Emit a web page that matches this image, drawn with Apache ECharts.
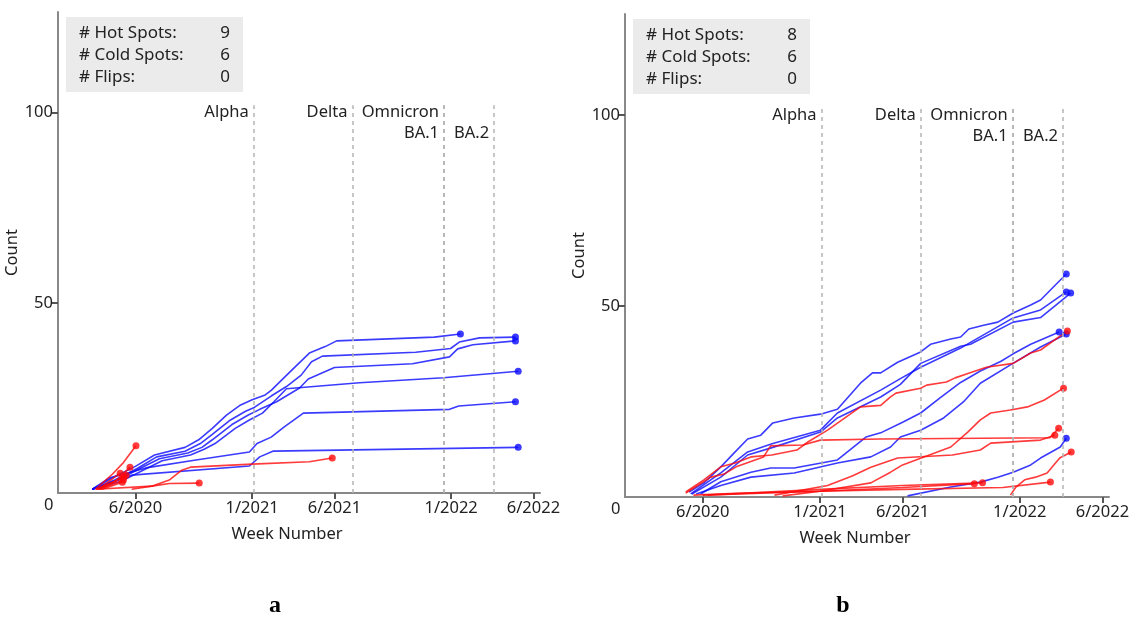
<!DOCTYPE html>
<html>
<head>
<meta charset="utf-8">
<script src="https://cdn.jsdelivr.net/npm/echarts@6/dist/echarts.min.js"></script>
<style>
html, body { margin: 0; padding: 0; background: #fff; }
#main { width: 1135px; height: 619px; }
</style>
</head>
<body>
<div id="main"></div>
<script>
// counts shown in the grey box, panel a then panel b
var hotSpots = [9, 8];
var coldSpots = [6, 6];
var flips = [0, 0];
var panelNames = ['a', 'b'];

var variantNames = ['Alpha', 'Delta', 'Omnicron', 'BA.1', 'BA.2'];
var variantDates = ['2021-01-04', '2021-07-04', '2021-12-19', '2021-12-19', '2022-03-21'];
var tickDates = ['2020-06-01', '2021-01-01', '2021-06-01', '2022-01-01', '2022-06-01'];
var yTicks = [50, 100];

// panel a, cold spots (blue)
var aCold = [
	[['2020-03-14',1],['2020-04-20',4],['2020-06-01',7],['2020-07-06',10],['2020-08-31',12],['2020-09-25',14],['2020-10-20',17],['2020-11-15',20.5],['2020-12-09',23],['2021-01-01',24.5],['2021-01-25',25.8],['2021-02-05',27],['2021-03-11',31.8],['2021-04-16',36.8],['2021-05-15',38.5],['2021-06-05',40],['2021-12-01',41],['2022-01-18',41.8]],
	[['2020-03-14',1],['2020-04-25',3.5],['2020-06-05',6.5],['2020-07-10',9.5],['2020-08-31',11],['2020-09-28',13],['2020-10-20',15.4],['2020-11-20',19],['2020-12-20',21.5],['2021-01-05',22.5],['2021-02-05',25.5],['2021-03-05',28],['2021-04-01',31],['2021-04-20',34.5],['2021-05-10',36],['2021-10-28',37],['2021-12-31',38],['2022-01-16',39.7],['2022-02-22',40.8],['2022-04-29',41]],
	[['2020-03-14',1],['2020-05-01',3.5],['2020-06-10',6.5],['2020-07-15',9],['2020-09-05',10.5],['2020-10-01',12],['2020-10-20',14],['2020-11-25',18],['2020-12-25',20.5],['2021-01-15',22],['2021-02-15',24],['2021-03-29',27.6],['2021-04-14',30],['2021-06-01',33],['2021-10-22',34],['2021-12-29',35.8],['2022-01-13',37.9],['2022-02-10',39],['2022-04-29',40]],
	[['2020-03-14',1],['2020-05-05',3],['2020-06-15',6],['2020-07-20',8.5],['2020-09-10',10],['2020-10-05',11.5],['2020-10-25',13],['2020-12-01',17],['2020-12-27',19.2],['2021-01-20',21],['2021-02-10',24],['2021-03-05',27.4],['2021-07-17',29],['2021-12-18',30.3],['2022-05-04',32]],
	[['2020-03-14',1],['2020-04-15',4],['2020-05-20',5.3],['2020-06-20',6.6],['2020-09-20',8.7],['2020-12-27',10.8],['2021-01-10',13],['2021-02-05',14.7],['2021-03-01',17.4],['2021-04-05',21],['2021-12-29',22],['2022-01-15',22.9],['2022-04-29',24]],
	[['2020-03-14',1],['2020-05-25',4.7],['2020-12-27',7.1],['2021-01-15',9.5],['2021-02-08',11],['2022-05-04',12]]
];
// panel a, hot spots (red)
var aHot = [
	[['2020-03-20',1],['2020-04-20',5],['2020-05-10',8],['2020-06-02',12.4]],
	[['2020-03-25',1],['2020-04-25',3],['2020-05-22',6.8]],
	[['2020-03-25',1],['2020-05-04',5.2]],
	[['2020-03-28',1],['2020-05-15',4.7]],
	[['2020-03-28',1],['2020-05-10',3.4]],
	[['2020-05-25',1],['2020-07-10',2],['2020-08-02',2.5],['2020-09-26',2.6]],
	[['2020-03-20',1],['2020-07-01',1.8],['2020-08-02',3.4],['2020-08-25',6],['2020-09-10',6.8],['2021-01-01',7.6],['2021-04-16',8.2],['2021-05-28',9.2]],
	[['2020-03-22',1],['2020-05-11',4.2]],
	[['2020-04-01',1],['2020-05-08',2.8]]
];
// panel b, cold spots (blue)
var bCold = [
	[['2020-05-07',1.3],['2020-06-03',3.7],['2020-07-04',7.9],['2020-07-28',11.5],['2020-08-22',15.2],['2020-09-15',16.2],['2020-10-07',19.4],['2020-11-15',20.7],['2021-01-02',21.7],['2021-02-02',23],['2021-03-16',29.8],['2021-04-07',32.5],['2021-04-22',32.5],['2021-05-23',35.3],['2021-07-04',38],['2021-07-22',40],['2021-08-28',41.4],['2021-09-15',41.9],['2021-09-30',44],['2021-10-27',45],['2021-11-22',45.8],['2021-12-20',48.2],['2022-01-21',50.3],['2022-02-08',51.6],['2022-03-27',58.4]],
	[['2020-05-10',0.8],['2020-07-04',6.3],['2020-08-22',11.8],['2020-10-07',14],['2021-01-02',17.5],['2021-02-02',22],['2021-04-22',28],['2021-05-28',31],['2021-07-04',34],['2021-09-15',39],['2021-10-03',40.5],['2021-12-20',46.9],['2022-02-08',49],['2022-03-27',53.7]],
	[['2020-05-12',0.8],['2020-07-04',5.2],['2020-08-22',11],['2020-10-07',13],['2021-01-02',17],['2021-02-02',20.7],['2021-04-22',26.2],['2021-05-28',29.5],['2021-07-04',35],['2021-09-15',39.5],['2021-10-03',40],['2021-12-20',45.8],['2022-02-08',47],['2022-04-04',53.4]],
	[['2020-05-28',0.8],['2020-07-04',4],['2020-08-28',6.5],['2020-10-03',7.6],['2020-11-15',7.6],['2021-02-02',9.7],['2021-03-26',15.7],['2021-04-22',16.8],['2021-06-01',19.6],['2021-07-04',22],['2021-08-09',26],['2021-09-15',30],['2021-10-21',33],['2021-11-27',35.5],['2021-12-20',37.5],['2022-01-21',40],['2022-03-14',43.2]],
	[['2020-05-20',0.8],['2020-07-04',3],['2020-08-28',5.2],['2020-11-15',6.3],['2021-02-02',8.9],['2021-04-04',10.5],['2021-05-10',13.1],['2021-05-28',15.7],['2021-07-04',17.5],['2021-08-15',20.7],['2021-09-20',24.9],['2021-10-21',29.8],['2021-12-15',34.6],['2022-02-08',39.3],['2022-03-27',42.7]],
	[['2021-06-10',0.3],['2021-08-28',2.6],['2021-10-21',3.9],['2021-11-22',5.2],['2021-12-20',6.5],['2022-01-21',8.4],['2022-02-08',10.2],['2022-03-16',13.1],['2022-03-27',15.4]]
];
// panel b, hot spots (red)
var bHot = [
	[['2020-05-01',1.3],['2020-06-03',4.5],['2020-07-04',7.9],['2020-07-30',8.9],['2020-08-28',10.5],['2020-10-05',11],['2020-11-20',12.3],['2020-12-10',14.4],['2021-01-15',17.5],['2021-03-16',23.6],['2021-04-22',24],['2021-05-10',26.2],['2021-05-20',27.2],['2021-07-04',28.5],['2021-07-15',29.3],['2021-08-20',30.1],['2021-09-05',31.2],['2021-10-01',32.5],['2021-11-01',34],['2021-12-20',35],['2022-01-21',37.7],['2022-02-08',38.5],['2022-03-29',43.5]],
	[['2020-10-25',0.3],['2021-01-01',1.5],['2021-04-04',3.7],['2021-05-10',6.5],['2021-06-01',8.4],['2021-07-10',10.5],['2021-08-28',13.1],['2021-09-28',17],['2021-10-21',20.2],['2021-11-09',22],['2021-12-15',22.8],['2022-01-15',23.6],['2022-02-15',25.4],['2022-03-22',28.5]],
	[['2020-05-01',1],['2020-06-16',5.2],['2020-07-10',6],['2020-08-01',7.9],['2020-09-20',10.5],['2020-10-03',13.4],['2020-12-01',13.6],['2021-01-02',14.9],['2021-04-22',15.2],['2022-02-25',15.5],['2022-03-13',18]],
	[['2020-10-10',0.5],['2021-01-15',3],['2021-03-01',5.5],['2021-04-04',7.8],['2021-05-23',10.2],['2021-08-31',11],['2021-10-21',12.3],['2021-11-09',14.1],['2022-02-08',14.9],['2022-03-06',16.2]],
	[['2021-12-15',0.5],['2021-12-25',2.6],['2022-01-10',4.5],['2022-01-30',5.2],['2022-02-20',6.3],['2022-03-15',10.2],['2022-04-05',11.8]],
	[['2020-05-15',0.5],['2020-08-01',1],['2021-01-01',1.5],['2021-06-01',2],['2021-12-01',2.5],['2022-02-26',3.9]],
	[['2020-06-01',0.5],['2021-01-01',1.5],['2021-06-01',2.5],['2021-10-10',3.5]],
	[['2020-06-10',0.5],['2021-01-01',2],['2021-06-01',3],['2021-10-25',3.7]]
];

var FONT = 'Noto Sans';
var TXT = '#222';
var BLUE = 'rgba(10,10,255,0.8)';
var RED = 'rgba(255,10,10,0.8)';
var X_MIN = '2020-01-11', X_MAX = '2022-06-13';
var grids = [
	{ left: 58, right: 595, top: 12, bottom: 126 },
	{ left: 625, right: 26, top: 14, bottom: 122 }
];

function ts(d) {
	return echarts.time.parse(d).getTime();
}
function toXY(l) {
	return l.map(function (p) { return [ts(p[0]), p[1]]; });
}

function lineSeries(lines, color, idx) {
	return lines.map(function (l) {
		return {
			type: 'line',
			xAxisIndex: idx,
			yAxisIndex: idx,
			data: toXY(l),
			symbol: 'none',
			silent: true,
			lineStyle: { color: color, width: 1.6 },
			z: 3
		};
	});
}

function endDots(lines, color, idx) {
	return {
		type: 'scatter',
		xAxisIndex: idx,
		yAxisIndex: idx,
		data: lines.map(function (l) { return toXY(l)[l.length - 1]; }),
		symbolSize: 7,
		silent: true,
		itemStyle: { color: color },
		z: 4
	};
}

var xAxes = [], yAxes = [], series = [];
[0, 1].forEach(function (i) {
	xAxes.push({
		type: 'value',
		gridIndex: i,
		min: ts(X_MIN),
		max: ts(X_MAX),
		name: 'Week Number',
		nameLocation: 'middle',
		nameGap: 33,
		nameTextStyle: { fontFamily: FONT, fontSize: 16.5, color: TXT, padding: [0, 24, 0, 0] },
		axisLine: { lineStyle: { color: '#888', width: 2 } },
		axisTick: { show: true, length: 6, lineStyle: { color: '#555', width: 2 }, customValues: tickDates.map(ts) },
		axisLabel: {
			fontFamily: FONT, fontSize: 16.5, color: TXT, margin: 7,
			customValues: tickDates.map(ts),
			formatter: function (v) {
				var d = new Date(v);
				return (d.getMonth() + 1) + '/' + d.getFullYear();
			}
		},
		splitLine: { show: false }
	});
	yAxes.push({
		type: 'value',
		gridIndex: i,
		min: 0,
		max: 126.5,
		name: 'Count',
		nameLocation: 'middle',
		nameGap: 31,
		nameTextStyle: { fontFamily: FONT, fontSize: 16.5, color: TXT },
		axisLine: { show: true, lineStyle: { color: '#888', width: 2 } },
		axisTick: { show: true, length: 6, lineStyle: { color: '#555', width: 2 }, customValues: yTicks },
		axisLabel: { fontFamily: FONT, fontSize: 16.5, color: TXT, margin: 5, customValues: yTicks },
		splitLine: { show: false }
	});
});

var panels = [[aCold, aHot], [bCold, bHot]];
panels.forEach(function (p, i) {
	var cold = lineSeries(p[0], BLUE, i);
	cold[0].markLine = {
		silent: true,
		symbol: 'none',
		label: { show: false },
		lineStyle: { color: '#b4b4b4', width: 1.5, type: [4, 4] },
		data: variantDates.map(function (d) { return [{ coord: [ts(d), 0] }, { coord: [ts(d), 102] }]; })
	};
	series = series.concat(cold, lineSeries(p[1], RED, i), [endDots(p[0], 'rgb(10,10,255)', i), endDots(p[1], 'rgb(255,10,10)', i)]);
});

var chart = echarts.init(document.getElementById('main'));
chart.setOption({
	animation: false,
	grid: grids,
	xAxis: xAxes,
	yAxis: yAxes,
	series: series
});

// texts placed from the axes: grey count box, variant names, zero label, panel letter
var graphic = [];
[0, 1].forEach(function (i) {
	var o = chart.convertToPixel({ gridIndex: i }, [ts(X_MIN), 0]);
	var gx = o[0], gtop = grids[i].top;
	graphic.push({
		type: 'rect', shape: { x: gx + 8, y: gtop + 5, width: 177, height: 75 },
		style: { fill: '#ebebeb' }, z: 1
	});
	var rows = [['# Hot Spots:', hotSpots[i]], ['# Cold Spots:', coldSpots[i]], ['# Flips:', flips[i]]];
	rows.forEach(function (r, k) {
		graphic.push({ type: 'text', x: gx + 21, y: gtop + 21 + k * 22, style: { text: r[0], font: '17px ' + FONT, fill: TXT, verticalAlign: 'middle' }, z: 2 });
		graphic.push({ type: 'text', x: gx + 172, y: gtop + 21 + k * 22, style: { text: String(r[1]), font: '17px ' + FONT, fill: TXT, align: 'right', verticalAlign: 'middle' }, z: 2 });
	});
	variantNames.forEach(function (name, k) {
		var p = chart.convertToPixel({ gridIndex: i }, [ts(variantDates[k]), 100]);
		var row = (name === 'BA.1' || name === 'BA.2') ? 1 : 0;
		graphic.push({ type: 'text', x: p[0] - 5, y: p[1] + row * 21, style: { text: name, font: '16.5px ' + FONT, fill: TXT, align: 'right', verticalAlign: 'middle' }, z: 2 });
	});
	graphic.push({ type: 'text', x: o[0] - 14, y: o[1] + 12, style: { text: '0', font: '16.5px ' + FONT, fill: TXT, verticalAlign: 'middle' } });
	var mid = chart.convertToPixel({ gridIndex: i }, [ts('2021-02-12'), 0]);
	graphic.push({ type: 'text', x: mid[0], y: 606, style: { text: panelNames[i], font: 'bold 24px "Liberation Serif"', fill: '#000', align: 'center', verticalAlign: 'middle' } });
});
chart.setOption({ graphic: graphic });
</script>
</body>
</html>
